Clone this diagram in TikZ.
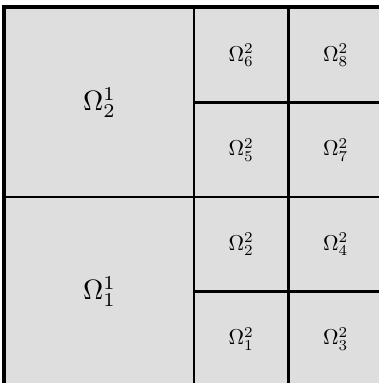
\documentclass[tikz,border=0pt]{standalone}
\usepackage{graphicx}
\definecolor{cellgray}{HTML}{DEDEDE}
\newcommand{\biglab}[1]{\scalebox{2.8}{$#1$}}
\newcommand{\smalllab}[1]{\scalebox{2.15}{$#1$}}
\tikzset{
  bigcell/.style={draw=black, fill=cellgray, line width=2.2pt, minimum width=189pt, minimum height=189pt, inner sep=0pt},
  smallcell/.style={draw=black, fill=cellgray, line width=2.2pt, minimum width=94.5pt, minimum height=94.5pt, inner sep=0pt},
}
\begin{document}
\begin{tikzpicture}[x=1pt,y=-1pt]
\useasboundingbox (0,0) rectangle (379,383);
\clip (0,0) rectangle (379,383);
\node[bigcell] (b2) at (99.5,102.5) {\biglab{\Omega_2^1}};
\node[bigcell] (b1) at (99.5,291.5) {\biglab{\Omega_1^1}};
\node[smallcell] (s6) at (241.25,55.25) {\smalllab{\Omega_6^2}};
\node[smallcell] (s8) at (335.75,55.25) {\smalllab{\Omega_8^2}};
\node[smallcell] (s5) at (241.25,149.75) {\smalllab{\Omega_5^2}};
\node[smallcell] (s7) at (335.75,149.75) {\smalllab{\Omega_7^2}};
\node[smallcell] (s2) at (241.25,244.25) {\smalllab{\Omega_2^2}};
\node[smallcell] (s4) at (335.75,244.25) {\smalllab{\Omega_4^2}};
\node[smallcell] (s1) at (241.25,338.75) {\smalllab{\Omega_1^2}};
\node[smallcell] (s3) at (335.75,338.75) {\smalllab{\Omega_3^2}};
\draw[line width=3.2pt] (b2.north west) rectangle (s3.south east);
\end{tikzpicture}
\end{document}
